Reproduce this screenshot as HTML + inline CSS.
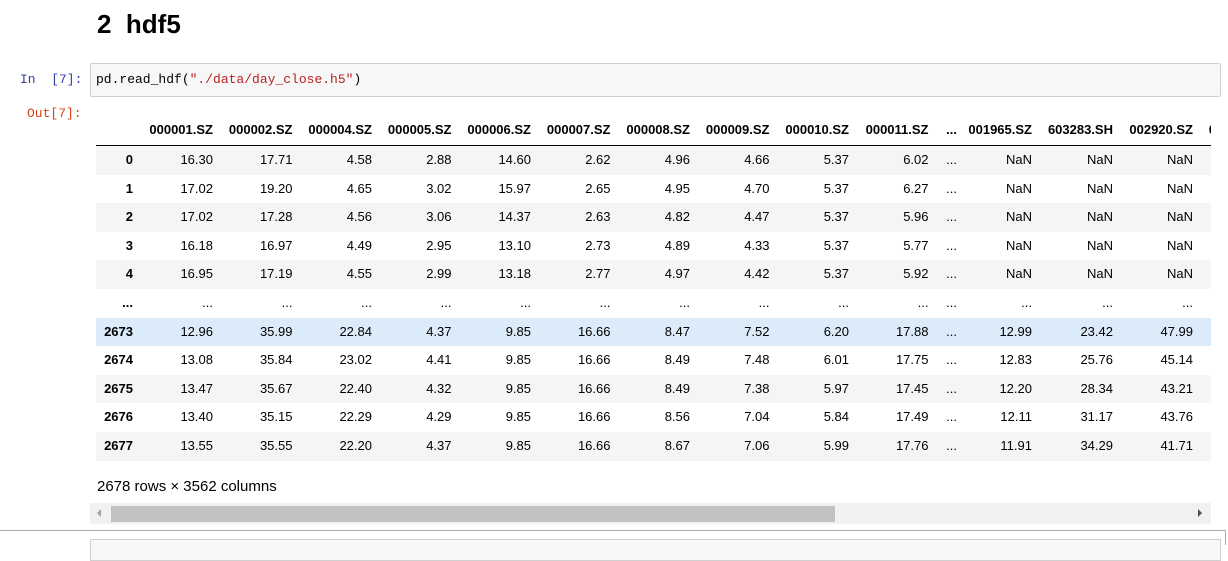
<!DOCTYPE html>
<html><head><meta charset="utf-8">
<style>
body{margin:0;width:1228px;height:546px;background:#fff;position:relative;overflow:hidden;font-family:"Liberation Sans",Arial,sans-serif;}
.abs{position:absolute;}
.mono{font-family:"Liberation Mono","Noto Sans CJK SC",monospace;font-size:13px;}
#tbl{position:absolute;left:96px;top:112px;width:1115px;height:352px;overflow:hidden;}
.row{position:absolute;left:0;height:28.6px;width:1200px;}
.cell{position:absolute;top:0;height:28.6px;line-height:28.6px;text-align:right;font-size:13px;color:#000;white-space:nowrap;}
.hdr .cell{font-weight:bold;font-size:13px;}
</style></head><body>
<div class="abs" style="left:97px;top:9px;font-size:26px;font-weight:bold;">2&nbsp; hdf5</div>
<div class="abs mono" style="left:20px;top:72px;color:#303f9f;">In&nbsp; [7]:</div>
<div class="abs" style="left:90px;top:63px;width:1129px;height:32px;background:#f7f7f7;border:1px solid #cfcfcf;border-radius:2px;"></div>
<div class="abs mono" style="left:96px;top:72px;color:#000;">pd.read_hdf(<span style="color:#ba2121">"./data/day_close.h5"</span>)</div>
<div class="abs mono" style="left:27px;top:106px;color:#d84315;">Out[7]:</div>
<div id="tbl"></div>
<div class="abs" style="left:97px;top:478px;font-size:15px;">2678 rows × 3562 columns</div>
<div class="abs" style="left:90px;top:503px;width:1121px;height:21px;background:#f1f1f1;"></div>
<div class="abs" style="left:111px;top:506px;width:724px;height:16px;background:#c1c1c1;"></div>
<div class="abs" style="left:97px;top:509px;width:0;height:0;border-top:4px solid transparent;border-bottom:4px solid transparent;border-right:4px solid #a3a3a3;"></div>
<div class="abs" style="left:1198px;top:509px;width:0;height:0;border-top:4px solid transparent;border-bottom:4px solid transparent;border-left:4px solid #505050;"></div>
<div class="abs" style="left:0;top:530px;width:1225px;height:14px;border-top:1px solid #ababab;border-right:1px solid #ababab;"></div>
<div class="abs" style="left:90px;top:539px;width:1129px;height:20px;background:#f7f7f7;border:1px solid #cfcfcf;"></div>
<script>
const columns=["000001.SZ","000002.SZ","000004.SZ","000005.SZ","000006.SZ","000007.SZ","000008.SZ","000009.SZ","000010.SZ","000011.SZ","...","001965.SZ","603283.SH","002920.SZ","0"];
const rowIndex=["0","1","2","3","4","...","2673","2674","2675","2676","2677"];
const rowValues=[
["16.30","17.71","4.58","2.88","14.60","2.62","4.96","4.66","5.37","6.02","...","NaN","NaN","NaN",""],
["17.02","19.20","4.65","3.02","15.97","2.65","4.95","4.70","5.37","6.27","...","NaN","NaN","NaN",""],
["17.02","17.28","4.56","3.06","14.37","2.63","4.82","4.47","5.37","5.96","...","NaN","NaN","NaN",""],
["16.18","16.97","4.49","2.95","13.10","2.73","4.89","4.33","5.37","5.77","...","NaN","NaN","NaN",""],
["16.95","17.19","4.55","2.99","13.18","2.77","4.97","4.42","5.37","5.92","...","NaN","NaN","NaN",""],
["...","...","...","...","...","...","...","...","...","...","...","...","...","...","..."],
["12.96","35.99","22.84","4.37","9.85","16.66","8.47","7.52","6.20","17.88","...","12.99","23.42","47.99",""],
["13.08","35.84","23.02","4.41","9.85","16.66","8.49","7.48","6.01","17.75","...","12.83","25.76","45.14",""],
["13.47","35.67","22.40","4.32","9.85","16.66","8.49","7.38","5.97","17.45","...","12.20","28.34","43.21",""],
["13.40","35.15","22.29","4.29","9.85","16.66","8.56","7.04","5.84","17.49","...","12.11","31.17","43.76",""],
["13.55","35.55","22.20","4.37","9.85","16.66","8.67","7.06","5.99","17.76","...","11.91","34.29","41.71",""]];
const tbl=document.getElementById('tbl');
const rights=[];
for(let i=0;i<10;i++)rights.push(117+i*79.5);
rights.push(861);rights.push(936);rights.push(1017);rights.push(1097);rights.push(1126);
function mk(row,text,right,w,bold){
  const c=document.createElement('div');
  c.className='cell';
  
  
  c.style.left=(right-w)+'px';c.style.width=w+'px';
  if(bold)c.style.fontWeight='bold';
  c.textContent=text;row.appendChild(c);
}
const hdr=document.createElement('div');
hdr.className='row hdr';


hdr.style.top='4px';hdr.style.height='29px';hdr.style.borderBottom='1px solid #000';hdr.style.width='1115px';
columns.forEach((t,i)=>mk(hdr,t,t==='0'?1120:rights[i],80,true));
tbl.appendChild(hdr);
rowIndex.forEach((idx,r)=>{
  const row=document.createElement('div');
  row.className='row';
  
  
  row.style.top=(34+r*28.6)+'px';
  let bg='transparent';
  if(r%2===0&&r!==5)bg='#f5f5f5';
  if(r===6)bg='#dcebf9';
  row.style.background=bg;
  mk(row,idx,37,40,true);
  rowValues[r].forEach((v,i)=>mk(row,v,rights[i],78,false));
  tbl.appendChild(row);
});
</script>
</body></html>
